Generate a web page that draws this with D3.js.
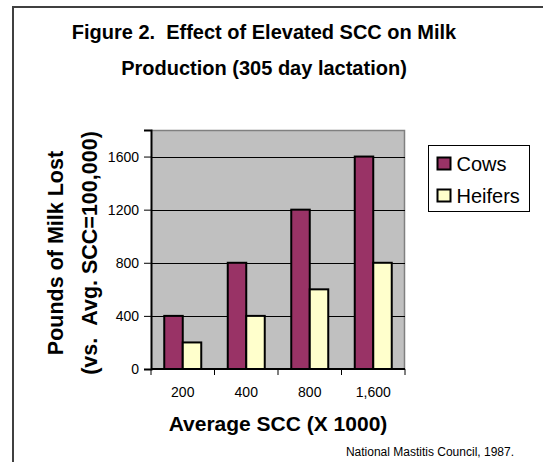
<!DOCTYPE html>
<html>
<head>
<meta charset="utf-8">
<script src="https://cdn.jsdelivr.net/npm/d3@7"></script>
<style>
    body { margin: 0; background: #fff; }
    svg { display: block; font-family: "Liberation Sans", Arial, sans-serif; }
</style>
</head>
<body>
<div id="container"></div>
<script>
const categories = ["200", "400", "800", "1,600"]
const seriesNames = ["Cows", "Heifers"]
const cows = [400, 800, 1200, 1600]
const heifers = [200, 400, 600, 800]
const yTicks = [0, 400, 800, 1200, 1600]

const width = 543
const height = 462

const colors = {
    Cows: "#993366",
    Heifers: "#ffffcc",
}

const margin = {
    left: 151,
    top: 130,
    right: 138,
    bottom: 93,
};

const svg = d3.select('#container')
    .append('svg').attr('width', width).attr('height', height)

// outer frame (only left and top are visible in the crop)
svg.append("path")
    .attr("d", "M13,462 L13,7 L543,7")
    .attr("fill", "none")
    .attr("stroke", "#404040")
    .attr("stroke-width", 2)

// title
const title = svg.append("text")
    .attr("text-anchor", "middle")
    .attr("font-weight", "bold")
    .attr("font-size", 20)
title.append("tspan").attr("x", 264).attr("y", 39).text("Figure 2.\u00a0\u00a0Effect of Elevated SCC on Milk")
title.append("tspan").attr("x", 264).attr("y", 75).text("Production (305 day lactation)")

const inner_width = width - margin.left - margin.right
const inner_height = height - margin.top - margin.bottom

const g = svg.append("g").attr("transform", `translate(${margin.left},${margin.top})`)

const x0 = d3.scaleBand().domain(categories).range([0, inner_width]).paddingInner(0).paddingOuter(0)
const x1 = d3.scaleBand().domain(seriesNames).range([0, 37]).padding(0)
const y = d3.scaleLinear().domain([0, 1800]).range([inner_height, 0])

// plot background
g.append("rect")
    .attr("width", inner_width).attr("height", inner_height)
    .attr("fill", "#c0c0c0")
g.append("path")
    .attr("d", `M0,0.5 L${inner_width - 0.5},0.5 L${inner_width - 0.5},${inner_height}`)
    .attr("fill", "none")
    .attr("stroke", "#808080")
    .attr("stroke-width", 1.5)

// gridlines
g.selectAll(".grid").data(yTicks.slice(1)).join("line")
    .attr("class", "grid")
    .attr("x1", 0).attr("x2", inner_width)
    .attr("y1", d => Math.round(y(d)) + 0.5).attr("y2", d => Math.round(y(d)) + 0.5)
    .attr("stroke", "#000").attr("stroke-width", 1)

// bars
const data = categories.map((c, i) => ({ cat: c, values: [
    { key: "Cows", value: cows[i] },
    { key: "Heifers", value: heifers[i] },
] }))

const groups = g.selectAll(".grp").data(data).join("g")
    .attr("class", "grp")
    .attr("transform", d => `translate(${x0(d.cat) + (x0.bandwidth() - 37) / 2},0)`)

groups.selectAll("rect").data(d => d.values).join("rect")
    .attr("x", d => x1(d.key))
    .attr("y", d => y(d.value))
    .attr("width", x1.bandwidth())
    .attr("height", d => inner_height - y(d.value))
    .attr("fill", d => colors[d.key])
    .attr("stroke", "#000")
    .attr("stroke-width", 2)

// y axis
const yAxis = g.append("g")
    .call(d3.axisLeft(y).tickValues(yTicks).tickSize(7).tickPadding(5).tickFormat(d3.format("d")))
yAxis.select(".domain").attr("stroke-width", 2)
yAxis.selectAll("text").attr("font-size", 14).attr("font-family", "Liberation Sans, Arial, sans-serif").attr("fill", "#000")

// x axis: ticks sit on category boundaries
const xAxis = g.append("g").attr("transform", `translate(0,${inner_height})`)
xAxis.append("line")
    .attr("x1", 0).attr("x2", inner_width)
    .attr("stroke", "#000").attr("stroke-width", 2)
xAxis.selectAll(".tk").data(d3.range(categories.length + 1)).join("line")
    .attr("class", "tk")
    .attr("x1", i => i * x0.step()).attr("x2", i => i * x0.step())
    .attr("y1", 0).attr("y2", 6)
    .attr("stroke", "#000")
xAxis.selectAll(".lbl").data(categories).join("text")
    .attr("class", "lbl")
    .attr("x", d => x0(d) + x0.bandwidth() / 2)
    .attr("y", 28)
    .attr("text-anchor", "middle")
    .attr("font-size", 14)
    .text(d => d)

// axis titles
svg.append("text")
    .attr("x", 278).attr("y", 431)
    .attr("text-anchor", "middle")
    .attr("font-weight", "bold")
    .attr("font-size", 21)
    .text("Average SCC (X 1000)")

const yTitle = svg.append("text")
    .attr("transform", "translate(0,253) rotate(-90)")
    .attr("text-anchor", "middle")
    .attr("font-weight", "bold")
    .attr("font-size", 21.5)
yTitle.append("tspan").attr("x", 0).attr("y", 63).text("Pounds of Milk Lost")
yTitle.append("tspan").attr("x", 0).attr("y", 97).text("(vs.\u00a0\u00a0Avg. SCC=100,000)")

// legend
const legend = svg.append("g").attr("transform", "translate(428.5,145.5)")
legend.append("rect")
    .attr("width", 101).attr("height", 66)
    .attr("fill", "#fff").attr("stroke", "#000").attr("stroke-width", 1)
legend.selectAll(".item").data(seriesNames).join("g")
    .attr("class", "item")
    .attr("transform", (d, i) => `translate(9,${12 + i * 32})`)
    .call(s => {
        s.append("rect")
            .attr("width", 13).attr("height", 12)
            .attr("fill", d => colors[d])
            .attr("stroke", "#000").attr("stroke-width", 2)
        s.append("text")
            .attr("x", 19).attr("y", 13)
            .attr("font-size", 20)
            .text(d => d)
    })

// source note
svg.append("text")
    .attr("x", 514).attr("y", 456)
    .attr("text-anchor", "end")
    .attr("font-size", 12)
    .text("National Mastitis Council, 1987.")
</script>
</body>
</html>
